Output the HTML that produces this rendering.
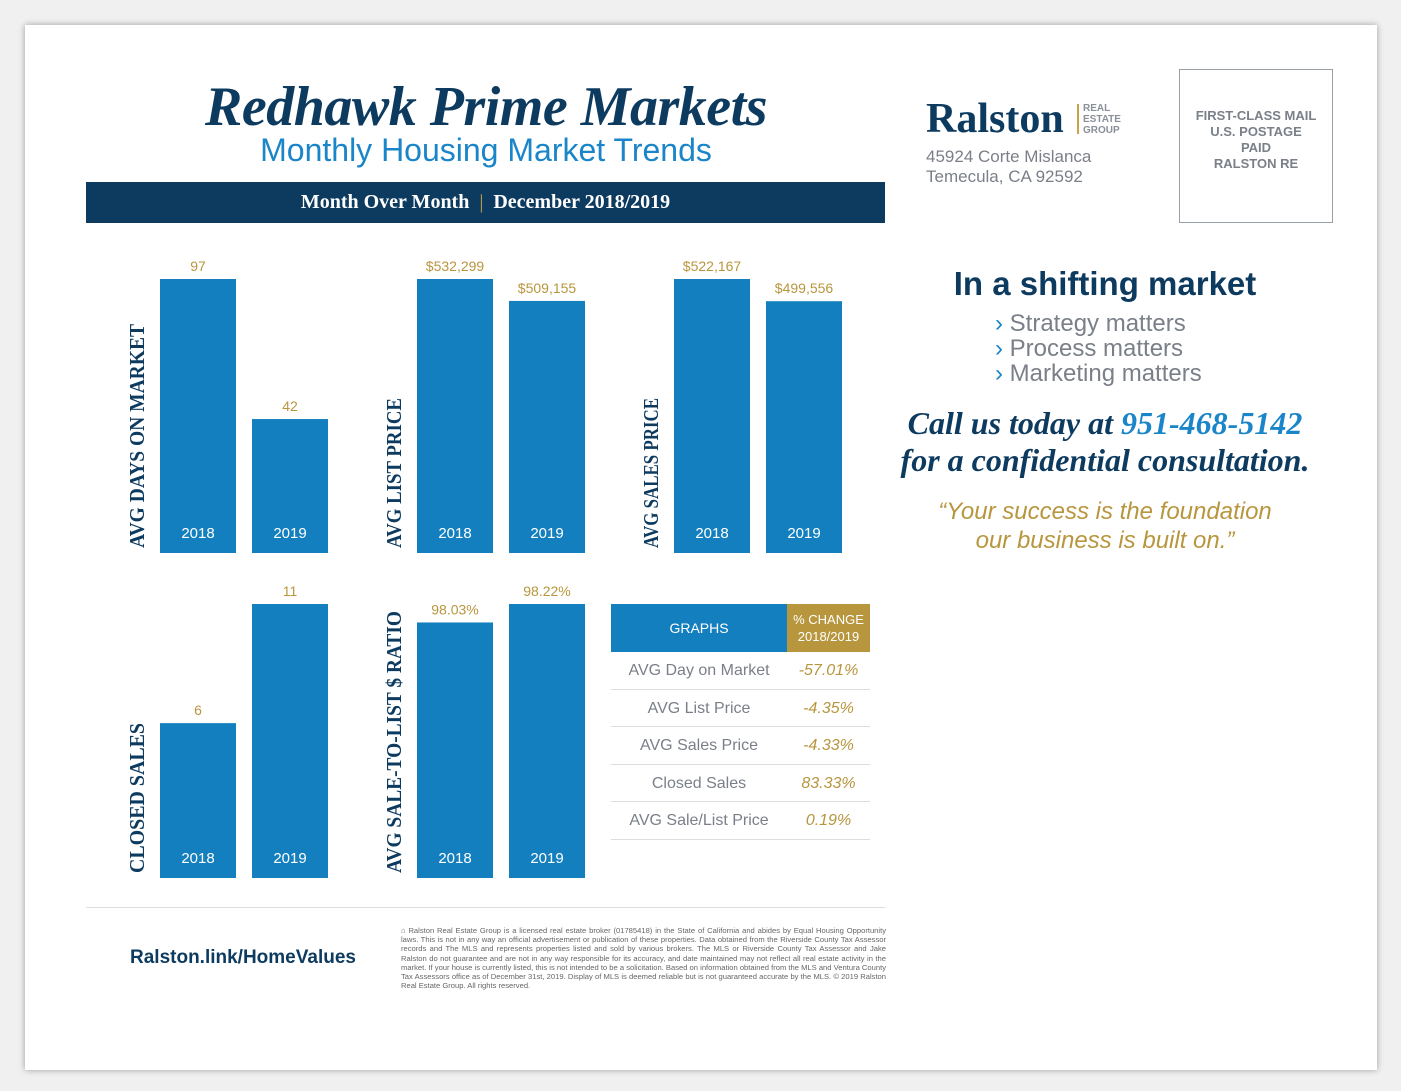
<!DOCTYPE html>
<html><head><meta charset="utf-8"><style>
body{margin:0;width:1401px;height:1091px;background:#f0f0f0;position:relative;overflow:hidden;font-family:"Liberation Sans",sans-serif}
.card{position:absolute;left:25px;top:25px;width:1352px;height:1045px;background:#fff;box-shadow:0 0 6px rgba(0,0,0,.35)}
.abs{position:absolute}
</style></head><body>
<div class="card"></div>
<div class="abs" style="left:86px;width:800px;top:75px;text-align:center;font:italic bold 56px 'Liberation Serif',serif;color:#0d3a5f;letter-spacing:-0.5px">Redhawk Prime Markets</div>
<div class="abs" style="left:86px;width:800px;top:132px;text-align:center;font:32px 'Liberation Sans',sans-serif;color:#1a85c8">Monthly Housing Market Trends</div>
<div class="abs" style="left:86px;top:182px;width:799px;height:41px;background:#0d3a5f;color:#fff;text-align:center;font:bold 20px/41px 'Liberation Serif',serif">Month Over Month <span style="color:#c9a24a;font-weight:normal">&nbsp;|&nbsp;</span> December 2018/2019</div>

<div class="abs" style="left:926px;top:95px;font:bold 42px 'Liberation Serif',serif;color:#0d3a5f">Ralston</div>
<div class="abs" style="left:1077px;top:104px;width:2px;height:30px;background:#c9a24a"></div>
<div class="abs" style="left:1083px;top:103px;font:bold 10px/11px 'Liberation Sans',sans-serif;color:#8a8f98">REAL<br>ESTATE<br>GROUP</div>
<div class="abs" style="left:926px;top:147px;font:17px/20px 'Liberation Sans',sans-serif;color:#7a7f88">45924 Corte Mislanca<br>Temecula, CA 92592</div>
<div class="abs" style="left:1179px;top:69px;width:154px;height:154px;border:1px solid #9aa0a8;text-align:center;font:bold 13px/16px 'Liberation Sans',sans-serif;color:#7a7f88;box-sizing:border-box;padding-top:38px">FIRST-CLASS MAIL<br>U.S. POSTAGE<br>PAID<br>RALSTON RE</div>

<div class="abs" style="left:905px;width:400px;top:265px;text-align:center;font:bold 33px 'Liberation Sans',sans-serif;color:#0d3a5f">In a shifting market</div>
<div class="abs" style="left:995px;top:311px;font:24px/25px 'Liberation Sans',sans-serif;color:#7a7f88">
<div><span style="color:#1a85c8">›</span> Strategy matters</div>
<div><span style="color:#1a85c8">›</span> Process matters</div>
<div><span style="color:#1a85c8">›</span> Marketing matters</div></div>
<div class="abs" style="left:880px;width:450px;top:405px;text-align:center;font:italic bold 32px/37px 'Liberation Serif',serif;color:#0d3a5f">Call us today at <span style="color:#1a85c8">951-468-5142</span><br>for a confidential consultation.</div>
<div class="abs" style="left:880px;width:450px;top:497px;text-align:center;font:italic 24px/29px 'Liberation Sans',sans-serif;color:#b8963e">“Your success is the foundation<br>our business is built on.”</div>

<div class="abs" style="left:86px;top:907px;width:799px;height:1px;background:#ddd"></div>
<div class="abs" style="left:130px;top:947px;font:bold 19px 'Liberation Sans',sans-serif;color:#0d3a5f">Ralston.link/HomeValues</div>
<div class="abs" style="left:401px;top:926px;width:485px;font:7.6px/9.2px 'Liberation Sans',sans-serif;color:#666;text-align:justify">⌂ Ralston Real Estate Group is a licensed real estate broker (01785418) in the State of California and abides by Equal Housing Opportunity laws. This is not in any way an official advertisement or publication of these properties. Data obtained from the Riverside County Tax Assessor records and The MLS and represents properties listed and sold by various brokers. The MLS or Riverside County Tax Assessor and Jake Ralston do not guarantee and are not in any way responsible for its accuracy, and date maintained may not reflect all real estate activity in the market. If your house is currently listed, this is not intended to be a solicitation. Based on information obtained from the MLS and Ventura County Tax Assessors office as of December 31st, 2019. Display of MLS is deemed reliable but is not guaranteed accurate by the MLS. © 2019 Ralston Real Estate Group. All rights reserved.</div>

<svg class="abs" style="left:0;top:0" width="1401" height="1091" id="charts"></svg>

<div class="abs" style="left:611px;top:604px;width:259px">
<div style="display:flex;height:48px">
<div style="width:176px;background:#137fbf;color:#fff;font:14px/48px 'Liberation Sans',sans-serif;text-align:center">GRAPHS</div>
<div style="width:83px;background:#b8963e;color:#fff;font:13px/17px 'Liberation Sans',sans-serif;text-align:center;padding-top:7px;box-sizing:border-box">% CHANGE<br>2018/2019</div></div>
<div id="rows"></div></div>

<script>
const chartTitles=["AVG DAYS ON MARKET","AVG LIST PRICE","AVG SALES PRICE","CLOSED SALES","AVG SALE-TO-LIST $ RATIO"];
const years=["2018","2019"];
const values2018=[97,532299,522167,6,98.03];
const values2019=[42,509155,499556,11,98.22];
const valueLabels2018=["97","$532,299","$522,167","6","98.03%"];
const valueLabels2019=["42","$509,155","$499,556","11","98.22%"];
const axisMin=[-10.6,243000,243000,-0.5,95.4];
const tableLabels=["AVG Day on Market","AVG List Price","AVG Sales Price","Closed Sales","AVG Sale/List Price"];
const tableChanges=["-57.01%","-4.35%","-4.33%","83.33%","0.19%"];

const NS="http://www.w3.org/2000/svg";
const svg=document.getElementById('charts');
const origins=[[160,553],[417,553],[674,553],[160,878],[417,878]];
const maxH=274,bw=76,gap=92;
function mk(t,a,txt){const e=document.createElementNS(NS,t);for(const k in a)e.setAttribute(k,a[k]);if(txt!==undefined)e.textContent=txt;svg.appendChild(e);return e;}
chartTitles.forEach((title,i)=>{
  const [x0,base]=origins[i];
  const vmax=Math.max(values2018[i],values2019[i]);
  const y=v=>base-(v-axisMin[i])/(vmax-axisMin[i])*maxH;
  const lab=mk('text',{x:0,y:0,transform:`translate(${x0-16},${base-5}) rotate(-90)`,'font-family':'Liberation Serif,serif','font-weight':'bold','font-size':'21','fill':'#0d3a5f','textLength':title.length>15?(i==4?262:224):150,'lengthAdjust':'spacingAndGlyphs'},title);
  
  
  [values2018,values2019].forEach((vals,j)=>{
    const bx=x0+j*gap, by=y(vals[i]);
    const r=mk('rect',{x:bx,y:by,width:bw,height:base-by,fill:'#137fbf'});
    
    
    const t=mk('text',{x:bx+bw/2,y:by-8,'text-anchor':'middle','font-family':'Liberation Sans,sans-serif','font-size':'14','fill':'#b8963e'},(j?valueLabels2019:valueLabels2018)[i]);
    
    
    const yl=mk('text',{x:bx+bw/2,y:base-15,'text-anchor':'middle','font-family':'Liberation Sans,sans-serif','font-size':'15','fill':'#fff'},years[j]);
    
    
  });
});
const rows=document.getElementById('rows');
tableLabels.forEach((l,i)=>{
  const d=document.createElement('div');
  
  
  d.style.cssText="display:flex;height:36.5px;border-bottom:1px solid #ddd;font:16px/38px 'Liberation Sans',sans-serif";
  d.innerHTML=`<div style="width:176px;text-align:center;color:#7a7f88">${l}</div><div style="width:83px;text-align:center;color:#b8963e;font-style:italic">${tableChanges[i]}</div>`;
  rows.appendChild(d);
});
</script>
</body></html>
